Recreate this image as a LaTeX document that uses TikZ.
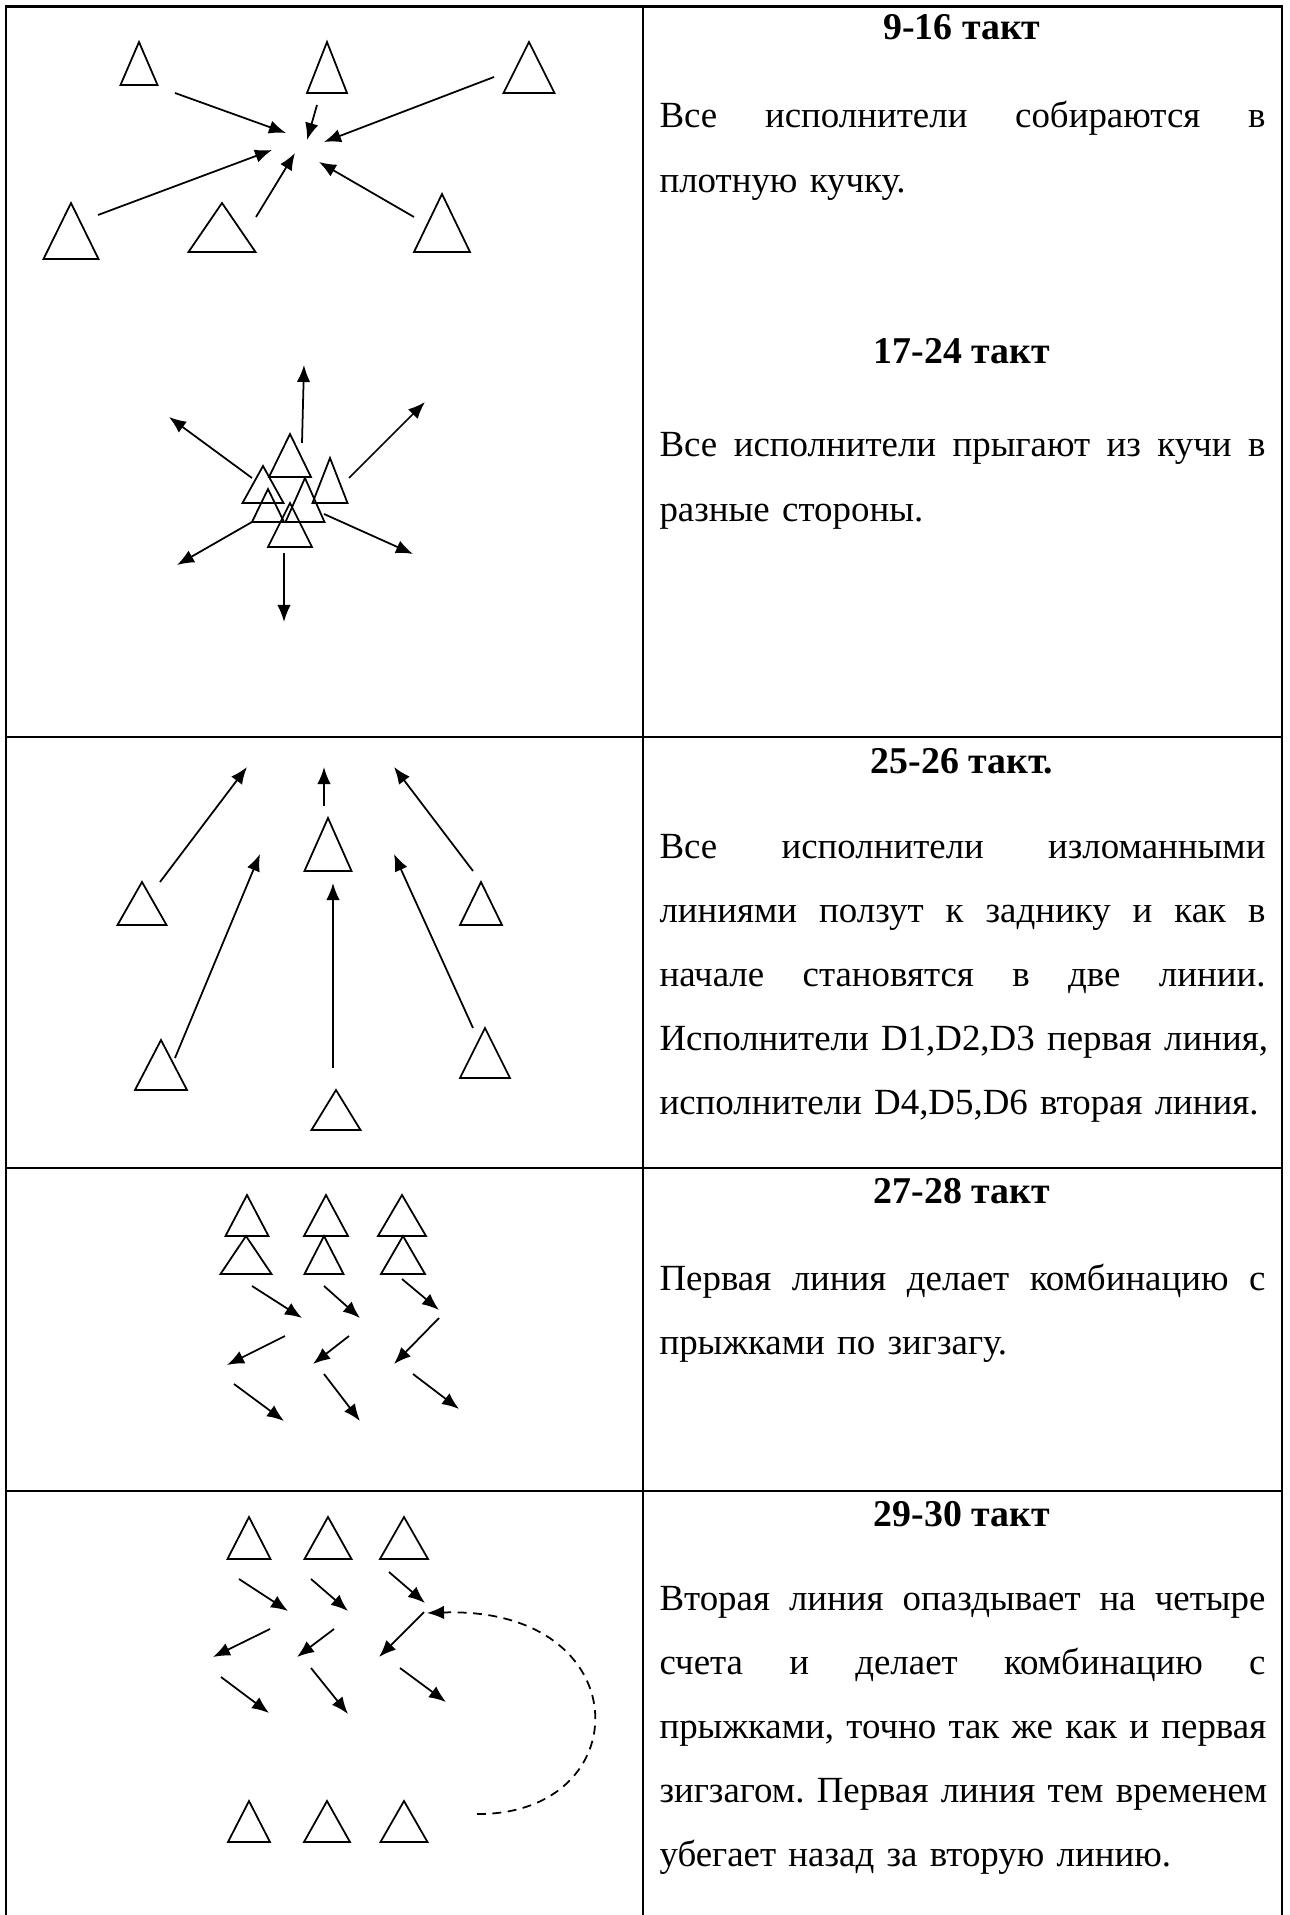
\documentclass[tikz,border=0pt]{standalone}
\usepackage{fontspec}
\setmainfont{Liberation Serif}
\frenchspacing
\usetikzlibrary{arrows.meta}
\newcommand{\dancer}[5]{\coordinate (#1) at (#2,#3);
  \draw[dancer] (#1) -- ++(#4,#5) -- ++(-2*#4,0) -- cycle;}
\newcommand{\jl}[1]{\makebox[224.2pt][s]{#1}}

\begin{document}
\begin{tikzpicture}[x=0.37pt,y=-0.37pt,
    dancer/.style={line width=0.65pt,line join=miter},
    move/.style={-{Latex[length=6.3pt,width=5pt]},line width=0.65pt},
    back/.style={move,dash pattern=on 3.3pt off 2.4pt},
    grid/.style={line width=0.9pt},
    head/.style={font={\fontsize{14}{23.7}\selectfont\bfseries},inner sep=0pt,anchor=base},
    para/.style={font={\fontsize{13.65}{23.7}\selectfont},text width=240pt,align=left,inner sep=0pt,anchor=base west}]
  \useasboundingbox (0,0) rectangle (1289,1915);
  % table
  \draw[grid] (6,1915) -- (6,6.5) -- (1282,6.5) -- (1282,1915);
  \draw[grid] (643,6.5) -- (643,1915);
  \draw[grid] (6,737) -- (1282,737);
  \draw[grid] (6,1168) -- (1282,1168);
  \draw[grid] (6,1491) -- (1282,1491);

  % 9-16
  \dancer{a1}{139}{42}{18.5}{43}
  \dancer{a2}{327}{42}{20}{51}
  \dancer{a3}{529}{42}{25.5}{51}
  \dancer{a4}{71}{203}{27.5}{56}
  \dancer{a5}{222}{203}{33.5}{49}
  \dancer{a6}{442}{194}{28}{58}
  \coordinate (a1f) at (175,93);  \coordinate (a1t) at (286,133);
  \coordinate (a2f) at (317,105); \coordinate (a2t) at (307,140);
  \coordinate (a3f) at (494,77);  \coordinate (a3t) at (324,142);
  \coordinate (a4f) at (98,215);  \coordinate (a4t) at (272,150);
  \coordinate (a5f) at (256,217); \coordinate (a5t) at (295,153);
  \coordinate (a6f) at (414,217); \coordinate (a6t) at (319,162);
  \draw[move] (a1f) -- (a1t);
  \draw[move] (a2f) -- (a2t);
  \draw[move] (a3f) -- (a3t);
  \draw[move] (a4f) -- (a4t);
  \draw[move] (a5f) -- (a5t);
  \draw[move] (a6f) -- (a6t);

  % 17-24
  \dancer{b1}{290}{434}{21}{43}
  \dancer{b2}{263}{466}{20.5}{37}
  \dancer{b3}{330}{458}{17.5}{45}
  \dancer{b4}{305}{478}{19.5}{44}
  \dancer{b5}{268}{489}{16}{33}
  \dancer{b6}{290}{503}{22}{44}
  \coordinate (b1f) at (302,443); \coordinate (b1t) at (304,365);
  \coordinate (b2f) at (252,478); \coordinate (b2t) at (169,417);
  \coordinate (b3f) at (349,478); \coordinate (b3t) at (425,402);
  \coordinate (b4f) at (252,522); \coordinate (b4t) at (177,565);
  \coordinate (b5f) at (324,514); \coordinate (b5t) at (413,554);
  \coordinate (b6f) at (284,553); \coordinate (b6t) at (284,622);
  \draw[move] (b1f) -- (b1t);
  \draw[move] (b2f) -- (b2t);
  \draw[move] (b3f) -- (b3t);
  \draw[move] (b4f) -- (b4t);
  \draw[move] (b5f) -- (b5t);
  \draw[move] (b6f) -- (b6t);

  % 25-26
  \dancer{c1}{142}{882}{24.5}{43}
  \dancer{c2}{328}{818}{23.5}{53}
  \dancer{c3}{481}{882}{21}{43}
  \dancer{c4}{161}{1040}{26}{50}
  \dancer{c5}{336}{1090}{24.5}{40}
  \dancer{c6}{485}{1028}{25}{50}
  \coordinate (c1f) at (160,882);  \coordinate (c1t) at (247,767);
  \coordinate (c2f) at (324,806);  \coordinate (c2t) at (324,767);
  \coordinate (c3f) at (473,871);  \coordinate (c3t) at (394,767);
  \coordinate (c4f) at (175,1058); \coordinate (c4t) at (260,854);
  \coordinate (c5f) at (333,1068); \coordinate (c5t) at (333,883);
  \coordinate (c6f) at (473,1028); \coordinate (c6t) at (394,854);
  \draw[move] (c1f) -- (c1t);
  \draw[move] (c2f) -- (c2t);
  \draw[move] (c3f) -- (c3t);
  \draw[move] (c4f) -- (c4t);
  \draw[move] (c5f) -- (c5t);
  \draw[move] (c6f) -- (c6t);

  % 27-28
  \dancer{d1}{247}{1195}{21.5}{41}
  \dancer{d2}{326}{1195}{22}{41}
  \dancer{d3}{402}{1195}{24}{41}
  \dancer{d4}{246}{1236}{25.5}{38}
  \dancer{d5}{324}{1236}{19.5}{38}
  \dancer{d6}{403}{1236}{22}{38}
  \coordinate (d1f) at (252,1286); \coordinate (d1t) at (302,1318);
  \coordinate (d2f) at (324,1286); \coordinate (d2t) at (360,1318);
  \coordinate (d3f) at (402,1279); \coordinate (d3t) at (439,1310);
  \coordinate (d4f) at (285,1336); \coordinate (d4t) at (227,1365);
  \coordinate (d5f) at (349,1336); \coordinate (d5t) at (313,1364);
  \coordinate (d6f) at (439,1318); \coordinate (d6t) at (394,1364);
  \coordinate (d7f) at (234,1384); \coordinate (d7t) at (284,1421);
  \coordinate (d8f) at (324,1374); \coordinate (d8t) at (360,1421);
  \coordinate (d9f) at (413,1374); \coordinate (d9t) at (459,1409);
  \draw[move] (d1f) -- (d1t);
  \draw[move] (d2f) -- (d2t);
  \draw[move] (d3f) -- (d3t);
  \draw[move] (d4f) -- (d4t);
  \draw[move] (d5f) -- (d5t);
  \draw[move] (d6f) -- (d6t);
  \draw[move] (d7f) -- (d7t);
  \draw[move] (d8f) -- (d8t);
  \draw[move] (d9f) -- (d9t);

  % 29-30
  \dancer{e1}{249}{1517}{21.5}{42}
  \dancer{e2}{328}{1517}{23.5}{42}
  \dancer{e3}{404}{1517}{24}{42}
  \dancer{e4}{249}{1801}{21}{41}
  \dancer{e5}{327}{1801}{23}{41}
  \dancer{e6}{404}{1801}{23.5}{41}
  \coordinate (e1f) at (239,1579); \coordinate (e1t) at (288,1611);
  \coordinate (e2f) at (311,1579); \coordinate (e2t) at (348,1611);
  \coordinate (e3f) at (389,1572); \coordinate (e3t) at (425,1603);
  \coordinate (e4f) at (270,1629); \coordinate (e4t) at (213,1657);
  \coordinate (e5f) at (334,1629); \coordinate (e5t) at (297,1657);
  \coordinate (e6f) at (424,1612); \coordinate (e6t) at (379,1657);
  \coordinate (e7f) at (221,1677); \coordinate (e7t) at (269,1713);
  \coordinate (e8f) at (311,1668); \coordinate (e8t) at (348,1714);
  \coordinate (e9f) at (400,1668); \coordinate (e9t) at (446,1702);
  \coordinate (runf) at (477,1814); \coordinate (runt) at (427,1613);
  \draw[move] (e1f) -- (e1t);
  \draw[move] (e2f) -- (e2t);
  \draw[move] (e3f) -- (e3t);
  \draw[move] (e4f) -- (e4t);
  \draw[move] (e5f) -- (e5t);
  \draw[move] (e6f) -- (e6t);
  \draw[move] (e7f) -- (e7t);
  \draw[move] (e8f) -- (e8t);
  \draw[move] (e9f) -- (e9t);
  \draw[back] (runf) .. controls (640,1815) and (640,1606) .. (runt);

  % texts
  \node[head] (h1) at (962,40) {9-16 такт};
  \node[para] (p1) at (659,128) {\jl{Все \hfill исполнители \hfill собираются \hfill в}\\плотную кучку.};
  \node[head] (h2) at (962,364) {17-24 такт};
  \node[para] (p2) at (659,457) {\jl{Все \hfill исполнители \hfill прыгают \hfill из \hfill кучи \hfill в}\\разные стороны.};
  \node[head] (h3) at (962,773) {25-26 такт.};
  \node[para] (p3) at (659,858) {\jl{Все \hfill исполнители \hfill изломанными}\\\jl{линиями \hfill ползут \hfill к \hfill заднику \hfill и \hfill как \hfill в}\\\jl{начале \hfill становятся \hfill в \hfill две \hfill линии.}\\\jl{Исполнители \hfill D1,D2,D3 \hfill первая \hfill линия,}\\исполнители D4,D5,D6 вторая линия.};
  \node[head] (h4) at (962,1203) {27-28 такт};
  \node[para] (p4) at (659,1290) {\jl{Первая \hfill линия \hfill делает \hfill комбинацию \hfill с}\\прыжками по зигзагу.};
  \node[head] (h5) at (962,1526) {29-30 такт};
  \node[para] (p5) at (659,1610) {\jl{Вторая \hfill линия \hfill опаздывает \hfill на \hfill четыре}\\\jl{счета \hfill и \hfill делает \hfill комбинацию \hfill с}\\\jl{прыжками, \hfill точно \hfill так \hfill же \hfill как \hfill и \hfill первая}\\\jl{зигзагом. \hfill Первая \hfill линия \hfill тем \hfill временем}\\убегает назад за вторую линию.};
\end{tikzpicture}
\end{document}
